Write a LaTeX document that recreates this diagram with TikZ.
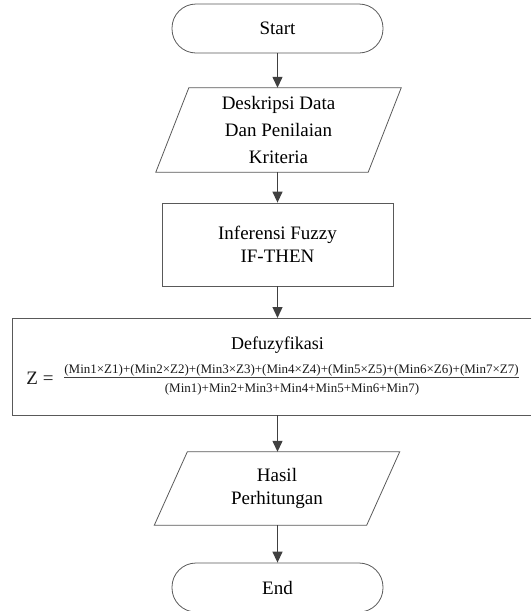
\documentclass[tikz,border=0pt]{standalone}
\usepackage{fontspec}
\setmainfont{Liberation Serif}
\usetikzlibrary{arrows.meta,calc}
\definecolor{linegray}{HTML}{595959}
\definecolor{arrowgray}{HTML}{404040}
\definecolor{textdark}{HTML}{1A1A1A}
\begin{document}
\begin{tikzpicture}[x=1pt,y=-1pt,
  shapeline/.style={draw=linegray,line width=0.8pt},
  term/.style={shapeline,rounded corners=24pt,minimum width=211pt,minimum height=49pt,inner sep=0pt,font=\fontsize{19}{23}\selectfont},
  procbox/.style={shapeline,minimum width=231pt,minimum height=83pt,inner sep=0pt,align=center,font=\fontsize{19}{23}\selectfont},
  iobox/.style={minimum width=212pt,inner sep=0pt,align=center,font=\fontsize{19}{23}\selectfont},
  formula/.style={inner sep=0pt,text=textdark,font=\fontsize{13}{15}\selectfont},
  flow/.style={draw=arrowgray,line width=1.3pt,-{Triangle[length=11pt,width=10pt]}},
]
\useasboundingbox (0,0) rectangle (531,611);

% Start
\node[term] (start) at (277.5,28.5) {Start};

% Input 1
\node[iobox,minimum height=84pt,font=\fontsize{19}{27}\selectfont] (p1) at (278.5,130) {Deskripsi Data\\Dan Penilaian\\Kriteria};
\draw[shapeline] ($(p1.north west)+(16.5,0)$) -- ($(p1.north east)+(16.5,0)$) -- ($(p1.south east)+(-16.5,0)$) -- ($(p1.south west)+(-16.5,0)$) -- cycle;

% Process
\node[procbox] (inf) at (277.5,244.5) {Inferensi Fuzzy\\IF-THEN};

% Defuzzification box (right side runs off the page)
\node[inner sep=0pt,minimum width=519pt,minimum height=97pt,anchor=north west] (big) at (12,318) {};
\draw[shapeline] (big.north east) -- (big.north west) -- (big.south west) -- (big.south east);
\node[inner sep=0pt,font=\fontsize{18}{22}\selectfont] (defz) at (277.5,345) {Defuzyfikasi};
\node[inner sep=0pt,text=textdark,font=\fontsize{19}{23}\selectfont] (zeq) at (40,378) {Z =};
\node[formula] (num) at (291.5,370) {(Min1×Z1)+(Min2×Z2)+(Min3×Z3)+(Min4×Z4)+(Min5×Z5)+(Min6×Z6)+(Min7×Z7)};
\node[formula] (den) at (292,389.5) {(Min1)+Min2+Min3+Min4+Min5+Min6+Min7)};
\draw[draw=arrowgray,line width=1.2pt] ([yshift=-1.5pt]num.south west) -- ([yshift=-1.5pt]num.south east);

% Output
\node[iobox,minimum height=73pt] (p2) at (277,488.5) {Hasil\\Perhitungan};
\draw[shapeline] ($(p2.north west)+(16.5,0)$) -- ($(p2.north east)+(16.5,0)$) -- ($(p2.south east)+(-16.5,0)$) -- ($(p2.south west)+(-16.5,0)$) -- cycle;

% End
\node[term] (end) at (277.5,587.5) {End};

% Connectors
\draw[flow] (start.south) -- (start.south |- p1.north);
\draw[flow] (start.south |- p1.south) -- (start.south |- inf.north);
\draw[flow] (inf.south) -- (inf.south |- big.north);
\draw[flow] (inf.south |- big.south) -- (inf.south |- p2.north);
\draw[flow] (inf.south |- p2.south) -- (end.north);
\end{tikzpicture}
\end{document}
